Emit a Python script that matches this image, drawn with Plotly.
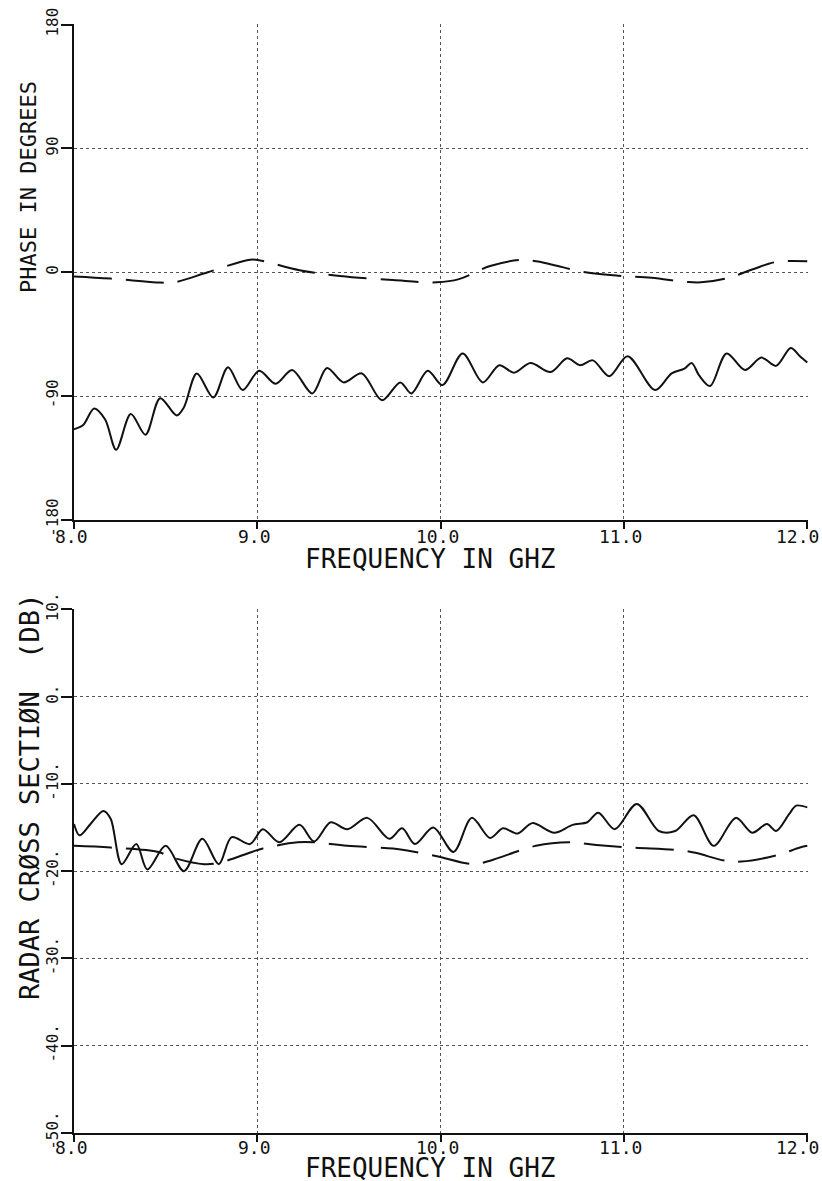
import plotly.graph_objects as go

# ---- Phase (degrees) vs frequency (GHz) ----
phase_freq_meas = [8.00, 8.05, 8.11, 8.17, 8.23, 8.31, 8.39, 8.47, 8.56, 8.60, 8.67, 8.76,
                   8.84, 8.92, 9.01, 9.10, 9.19, 9.30, 9.38, 9.47, 9.57, 9.68, 9.78, 9.84,
                   9.93, 10.01, 10.12, 10.23, 10.32, 10.40, 10.49, 10.60, 10.69, 10.76, 10.83,
                   10.92, 11.02, 11.17, 11.26, 11.33, 11.37, 11.41, 11.47, 11.56, 11.66, 11.75,
                   11.83, 11.91, 11.96, 12.00]
phase_meas = [-114, -111, -99, -107, -129, -103, -118, -91.5, -104, -98, -73.5, -91,
              -69, -85.6, -71.6, -81, -71, -88, -69.5, -80, -73.5, -93, -80, -88,
              -71.6, -82, -59, -80, -67.5, -73, -66, -72.5, -62.5, -67.5, -64,
              -75.5, -61, -85.6, -73.5, -70, -66, -75, -82.7, -59, -71, -62,
              -68, -55, -61, -65.5]

phase_freq_calc = [8.00, 8.20, 8.47, 8.54, 8.73, 8.95, 9.00, 9.23, 9.45, 9.74, 9.98, 10.10,
                   10.27, 10.43, 10.52, 10.61, 10.79, 10.97, 11.15, 11.34, 11.42, 11.57, 11.70,
                   11.83, 12.00]
phase_calc = [-3, -4.6, -7.5, -7.5, 0, 9, 9, 1.5, -2.7, -5.7, -7.3, -5,
              4.5, 8.9, 8, 5.5, 0, -2.5, -4, -7, -7.3, -4, 2,
              7.5, 8]

# ---- Radar cross section (dB) vs frequency (GHz) ----
rcs_freq_meas = [8.00, 8.03, 8.09, 8.16, 8.20, 8.26, 8.34, 8.40, 8.50, 8.60, 8.70, 8.79,
                 8.86, 8.96, 9.03, 9.12, 9.23, 9.31, 9.40, 9.49, 9.60, 9.72, 9.79, 9.86,
                 9.96, 10.07, 10.17, 10.27, 10.34, 10.42, 10.50, 10.62, 10.72, 10.80, 10.86,
                 10.95, 11.07, 11.19, 11.28, 11.38, 11.49, 11.61, 11.70, 11.78, 11.83, 11.90,
                 11.94, 12.00]
rcs_meas = [-14.6, -15.9, -14.6, -13.1, -14.0, -19.2, -16.9, -19.8, -17.1, -20.0, -16.3, -19.2,
            -16.1, -16.9, -15.2, -16.7, -14.7, -16.6, -14.4, -15.2, -13.9, -16.3, -15.1, -16.9,
            -15.0, -17.8, -13.9, -16.2, -15.1, -15.7, -14.5, -15.6, -14.7, -14.4, -13.3,
            -15.2, -12.3, -15.4, -15.4, -13.6, -17.1, -13.9, -15.6, -14.6, -15.4, -13.5,
            -12.5, -12.7]

rcs_freq_calc = [8.00, 8.20, 8.46, 8.53, 8.71, 8.80, 8.97, 9.03, 9.22, 9.31, 9.49, 9.74,
                 9.81, 9.98, 10.18, 10.27, 10.52, 10.70, 10.85, 11.04, 11.30, 11.39, 11.55,
                 11.64, 11.83, 11.96, 12.00]
rcs_calc = [-17.1, -17.3, -17.8, -18.4, -19.2, -19.0, -17.8, -17.4, -16.7, -16.7, -17.1, -17.4,
            -17.6, -18.3, -19.2, -18.8, -17.1, -16.7, -17.0, -17.3, -17.6, -17.9, -18.8,
            -18.9, -18.2, -17.3, -17.1]

freq_ticks = [8, 9, 10, 11, 12]
freq_tick_text = ["8.0", "9.0", "10.0", "11.0", "12.0"]
phase_ticks = [-180, -90, 0, 90, 180]
phase_tick_text = ["-180", "-90", "0", "90", "180"]
rcs_ticks = [-50, -40, -30, -20, -10, 0, 10]
rcs_tick_text = ["-50.", "-40.", "-30.", "-20.", "-10.", "0.", "10."]

MONO = "DejaVu Sans Mono"
INK = "#111111"

solid = dict(color=INK, width=2, shape="spline", smoothing=0.9)
dashed = dict(color=INK, width=2, dash="38px,14px", shape="spline", smoothing=1.0)

fig = go.Figure()
fig.add_trace(go.Scatter(x=phase_freq_meas, y=phase_meas, mode="lines", line=solid,
                         xaxis="x", yaxis="y", showlegend=False))
fig.add_trace(go.Scatter(x=phase_freq_calc, y=phase_calc, mode="lines", line=dashed,
                         xaxis="x", yaxis="y", showlegend=False))
fig.add_trace(go.Scatter(x=rcs_freq_meas, y=rcs_meas, mode="lines", line=solid,
                         xaxis="x2", yaxis="y2", showlegend=False))
fig.add_trace(go.Scatter(x=rcs_freq_calc, y=rcs_calc, mode="lines", line=dashed,
                         xaxis="x2", yaxis="y2", showlegend=False))

W, H = 822, 1181
L, R, T, B = 74, 14, 24, 48
plot_w = W - L - R
plot_h = H - T - B

def fy(py):
    return (H - B - py) / plot_h

def fx(px):
    return (px - L) / plot_w

TOP_BOTTOM_PX = 520
LOW_TOP_PX, LOW_BOTTOM_PX = 609, H - B

xcommon = dict(
    range=[8, 12.004], tickvals=freq_ticks, showticklabels=False,
    showline=True, linecolor=INK, linewidth=2,
    ticks="outside", ticklen=7, tickwidth=1.5, tickcolor=INK,
    showgrid=True, gridcolor="#555555", gridwidth=1, griddash="dot",
    zeroline=False, automargin=False, domain=[0, 1],
)
ycommon = dict(
    showline=True, linecolor=INK, linewidth=2,
    ticks="outside", ticklen=11, tickwidth=1.5, tickcolor=INK,
    showgrid=True, gridcolor="#555555", gridwidth=1, griddash="dot",
    zeroline=False, tickangle=-90, tickfont=dict(family=MONO, size=16, color=INK),
    ticklabelstandoff=-3, ticklabeloverflow="allow", automargin=False,
)

fig.update_layout(
    width=W, height=H,
    margin=dict(l=L, r=R, t=T, b=B),
    paper_bgcolor="white", plot_bgcolor="white",
    xaxis=dict(**xcommon, anchor="y"),
    yaxis=dict(**ycommon, range=[-180, 180.4], tickvals=phase_ticks, ticktext=phase_tick_text,
               domain=[fy(TOP_BOTTOM_PX), fy(T)], anchor="x"),
    xaxis2=dict(**xcommon, anchor="y2"),
    yaxis2=dict(**ycommon, range=[-50, 10.03], tickvals=rcs_ticks, ticktext=rcs_tick_text,
                domain=[fy(LOW_BOTTOM_PX), fy(LOW_TOP_PX)], anchor="x2"),
)

# frequency tick labels and axis titles under each panel
for xref, axis_px, lab_off, title_off in (("x", TOP_BOTTOM_PX, 16, 39),
                                          ("x2", LOW_BOTTOM_PX, 14, 35)):
    for val, txt in zip(freq_ticks, freq_tick_text):
        last = val == freq_ticks[-1]
        fig.add_annotation(text=txt, showarrow=False, xref=xref, yref="paper",
                           x=val, y=fy(axis_px + lab_off), xanchor="right" if last else "center",
                           yanchor="middle", xshift=14 if last else -3,
                           font=dict(family=MONO, size=18, color=INK))
    fig.add_annotation(text="FREQUENCY IN GHZ", showarrow=False, xref="paper", yref="paper",
                       x=fx(430), y=fy(axis_px + title_off), xanchor="center", yanchor="middle",
                       font=dict(family=MONO, size=26, color=INK))

# vertical axis titles, set off toward the upper part of each panel
fig.add_annotation(text="PHASE IN DEGREES", textangle=-90, showarrow=False,
                   xref="paper", yref="paper", x=fx(28), y=fy(187),
                   xanchor="center", yanchor="middle",
                   font=dict(family=MONO, size=22, color=INK))
fig.add_annotation(text="RADAR CRØSS SECTIØN  (DB)", textangle=-90, showarrow=False,
                   xref="paper", yref="paper", x=fx(29), y=fy(797),
                   xanchor="center", yanchor="middle",
                   font=dict(family=MONO, size=27, color=INK))

fig.write_html("out.html")
